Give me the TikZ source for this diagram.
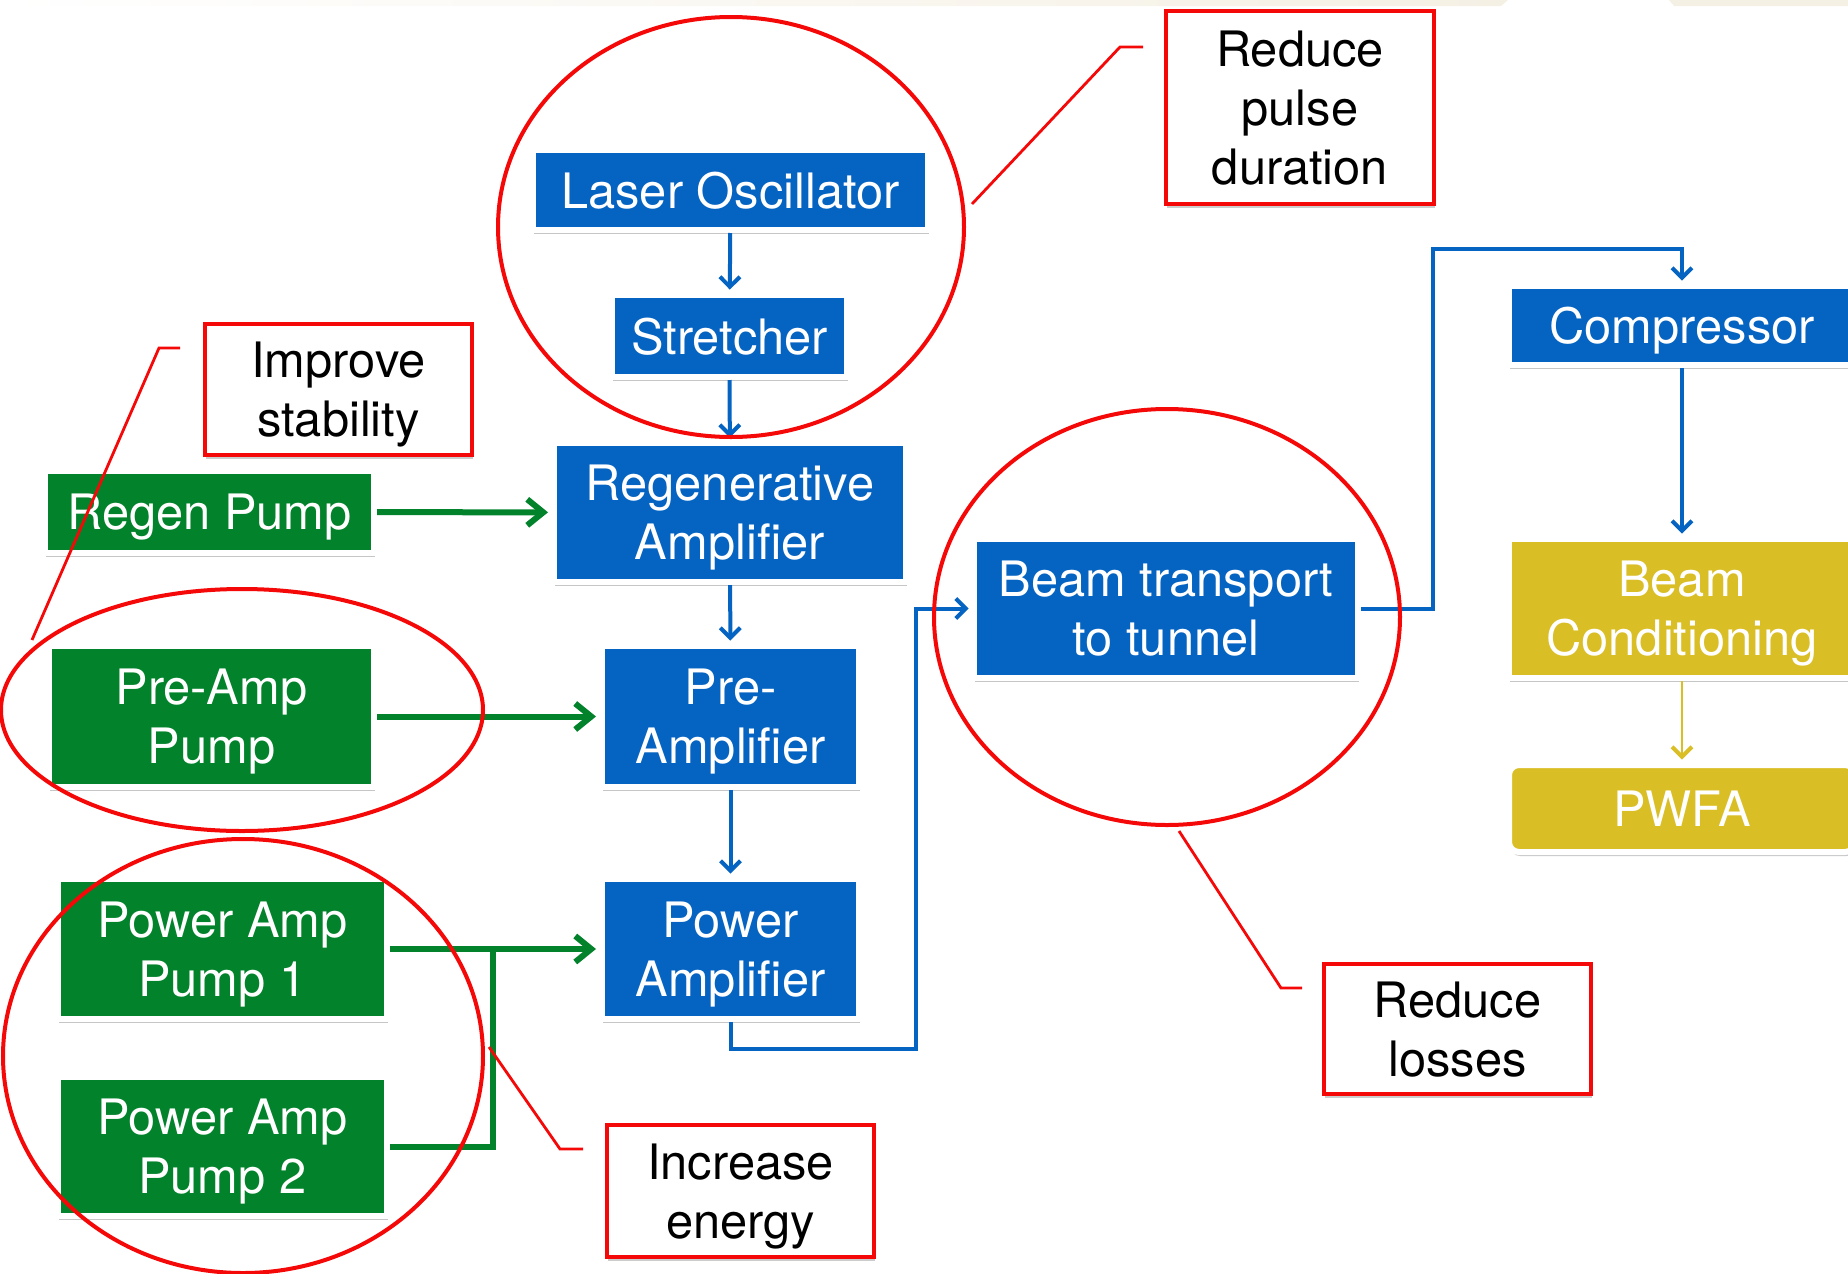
\documentclass[tikz,border=0pt]{standalone}
\usepackage{fontspec}
\setmainfont{TeX Gyre Heros}
\usetikzlibrary{arrows.meta,shadows}
\definecolor{lblue}{RGB}{5,99,193}
\definecolor{pgreen}{RGB}{3,130,44}
\definecolor{bgold}{RGB}{218,190,38}
\definecolor{nred}{RGB}{245,8,8}
\definecolor{band}{RGB}{245,240,228}
\tikzset{
	box/.style={draw=white, line width=3pt, text=white, align=center, inner sep=0pt,
		font=\fontsize{24.4}{29.5}\selectfont, text depth=0pt,
		drop shadow={shadow xshift=0.6pt, shadow yshift=-2pt, opacity=0.45}},
	bluebox/.style={box, fill=lblue},
	pumpbox/.style={box, fill=pgreen},
	goldbox/.style={box, fill=bgold},
	note/.style={draw=nred, line width=2pt, fill=white, align=center, inner sep=0pt,
		font=\fontsize{24.4}{29.5}\selectfont, text depth=0pt,
		drop shadow={shadow xshift=0.6pt, shadow yshift=-2pt, opacity=0.4}},
	beamline/.style={draw=lblue, line width=2pt, shorten >=1.2pt,
		-{Straight Barb[length=5pt, width=10pt, line width=2pt]}},
	pumpline/.style={draw=pgreen, line width=3pt, shorten >=1.5pt,
		-{Straight Barb[length=8pt, width=13pt, line width=3pt]}},
	ring/.style={draw=nred, line width=2pt},
	callout/.style={draw=nred, line width=1.4pt}
}
\begin{document}
\begin{tikzpicture}[x=0.5pt, y=-0.5pt]
		\useasboundingbox (0,0) rectangle (1848,1274);
		\shade[left color=white, right color=band] (0,0) -- (1508,0) -- (1501,6) -- (0,6) -- cycle;
		\fill[band] (1669,0) -- (1848,0) -- (1848,6) -- (1674,6) -- cycle;

		\node[bluebox, minimum width=197.5pt, minimum height=40pt] (osc) at (730.5,190) {Laser Oscillator};
		\node[bluebox, minimum width=117.5pt, minimum height=41pt] (str) at (729.5,336) {Stretcher};
		\node[bluebox, minimum width=176pt, minimum height=69.5pt] (regen) at (730,512.5) {Regenerative\\Amplifier};
		\node[bluebox, minimum width=128.5pt, minimum height=70.5pt] (pre) at (730.5,716.5) {Pre-\\Amplifier};
		\node[bluebox, minimum width=128.5pt, minimum height=70pt] (pamp) at (730.5,949) {Power\\Amplifier};
		\node[bluebox, minimum width=192pt, minimum height=69.5pt] (beam) at (1166,608.5) {Beam transport\\to tunnel};
		\node[bluebox, minimum width=173pt, minimum height=39.5pt] (comp) at (1682,325.5) {Compressor};
		\node[goldbox, minimum width=173pt, minimum height=69.5pt] (cond) at (1682,608.5) {Beam\\Conditioning};
		\node[goldbox, rounded corners=5pt, minimum width=173pt, minimum height=43.5pt] (pwfa) at (1682,808.5) {PWFA};

		\node[pumpbox, minimum width=164.5pt, minimum height=41pt] (rpump) at (209.5,512) {Regen Pump};
		\node[pumpbox, minimum width=162.5pt, minimum height=70.5pt] (ppump) at (211.5,716.5) {Pre-Amp\\Pump};
		\node[pumpbox, minimum width=164.5pt, minimum height=70pt] (pump1) at (222.5,949) {Power Amp\\Pump 1};
		\node[pumpbox, minimum width=164.5pt, minimum height=69.5pt] (pump2) at (222.5,1146.5) {Power Amp\\Pump 2};

		\node[note, minimum width=134pt, minimum height=96.5pt] (dur) at (1300,107.5) {Reduce\\pulse\\duration};
		\node[note, minimum width=133.5pt, minimum height=65.5pt] (stab) at (338.5,389.5) {Improve\\stability};
		\node[note, minimum width=133.5pt, minimum height=65pt] (loss) at (1457.5,1029) {Reduce\\losses};
		\node[note, minimum width=133.5pt, minimum height=66pt] (ener) at (740.5,1191) {Increase\\energy};

		\draw[beamline] (osc) -- (str);
		\draw[beamline] (str) -- (regen);
		\draw[beamline] (regen) -- (pre);
		\draw[beamline] (pre) -- (pamp);
		\draw[beamline] (pamp.south) |- (916,1049) |- (beam.west);
		\draw[beamline] (beam.east) -| (1433,249) -| (comp.north);
		\draw[beamline] (comp) -- (cond);
		\draw[beamline, draw=bgold, line width=1.4pt] (cond) -- (pwfa);

		\draw[pumpline] (rpump) -- (regen);
		\draw[pumpline] (ppump) -- (pre);
		\draw[pumpline] (pump1) -- (pamp);
		\draw[draw=pgreen, line width=3pt] (pump2.east) -| (493,949);

		\draw[ring] (731,227) ellipse [x radius=233, y radius=210];
		\draw[ring] (242,710) ellipse [x radius=241, y radius=121];
		\draw[ring] (243,1056) ellipse [x radius=240, y radius=217];
		\draw[ring] (1167,617) ellipse [x radius=233, y radius=208];

		\coordinate (a1) at (972,204);
		\coordinate (b1) at (1143,47);
		\coordinate (a2) at (32,640);
		\coordinate (b2) at (180,348);
		\coordinate (a3) at (489,1047);
		\coordinate (b3) at (583,1149);
		\coordinate (a4) at (1179,831);
		\coordinate (b4) at (1302,988);
		\draw[callout] (a1) -- (1120,47) -- (b1);
		\draw[callout] (a2) -- (159,348) -- (b2);
		\draw[callout] (a3) -- (560,1149) -- (b3);
		\draw[callout] (a4) -- (1281,988) -- (b4);
	\end{tikzpicture}
\end{document}
